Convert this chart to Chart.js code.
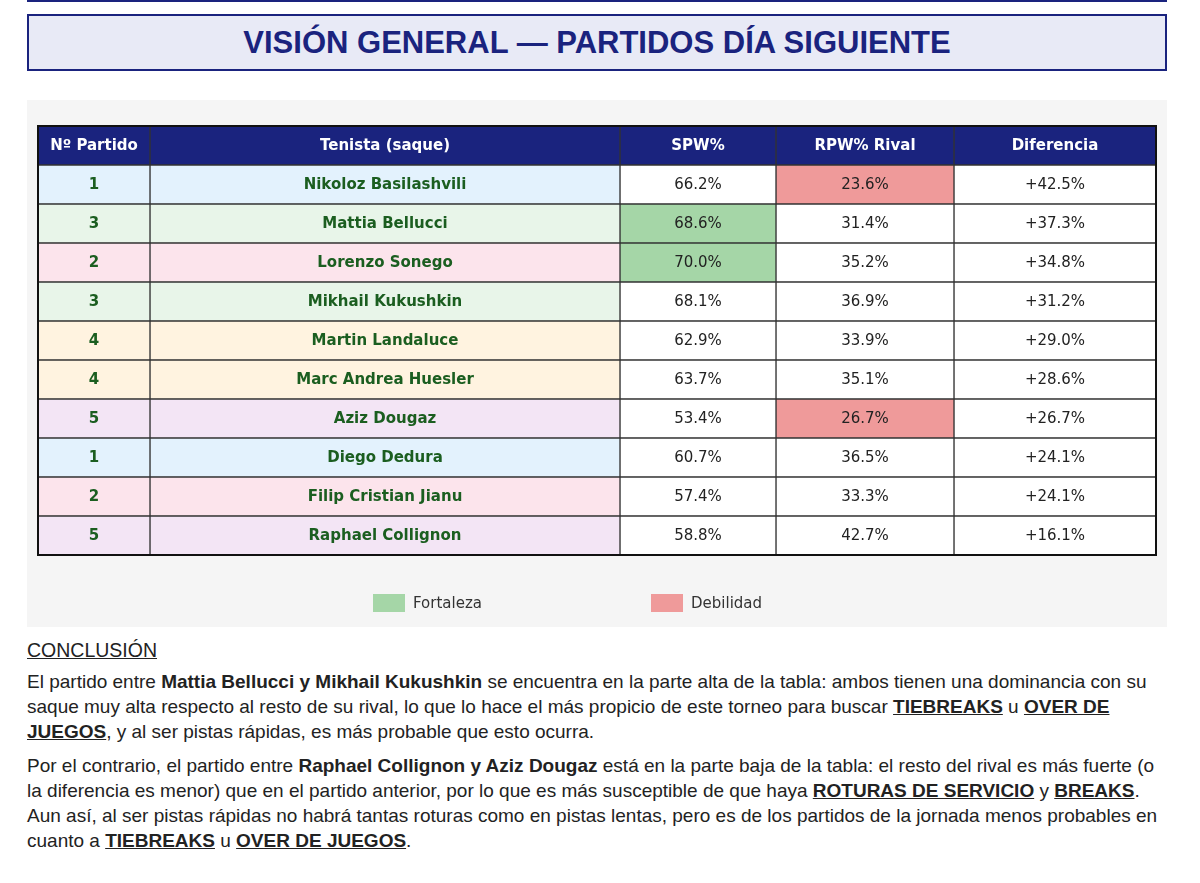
<!DOCTYPE html>
<html><head><meta charset="utf-8">
<script src="https://cdn.jsdelivr.net/npm/chart.js@4"></script>
<style>
body{margin:0;width:1200px;height:883px;background:#fff;font-family:"Liberation Sans",Arial,sans-serif;position:relative;overflow:hidden}
#topline{position:absolute;left:27px;top:0;width:1140px;height:2px;background:#1a237e}
#title{position:absolute;left:27px;top:14px;width:1136px;height:53px;border:2px solid #1a237e;background:#e8eaf6;color:#1a237e;font:bold 31px "Liberation Sans",Arial,sans-serif;display:flex;align-items:center;justify-content:center}
#panel{position:absolute;left:27px;top:100px;width:1140px;height:527px;background:#f5f5f5}
#legend{position:absolute;left:0;top:494px;width:1140px;font:15px "DejaVu Sans",sans-serif;color:#333}
.lg{position:absolute;display:flex;align-items:center}
.sw{width:32px;height:18px;margin-right:8px}
#concl{position:absolute;left:27px;top:638px;width:1145px;font-size:19px;line-height:25px;color:#222}
#concl p{margin:0 0 9px 0}
#concl h4{margin:0 0 6px 0;font-weight:normal;font-size:19.5px;text-decoration:underline}
u b,b u{font-weight:bold}
</style></head><body>
<div id="topline"></div>
<div id="title">VISIÓN GENERAL — PARTIDOS DÍA SIGUIENTE</div>
<div id="panel"><canvas id="c" width="1140" height="527"></canvas>
<div id="legend"><div class="lg" style="left:346px"><div class="sw" style="background:#a5d6a7"></div>Fortaleza</div>
<div class="lg" style="left:624px"><div class="sw" style="background:#ef9a9a"></div>Debilidad</div></div></div>
<div id="concl">
<h4>CONCLUSIÓN</h4>
<p>El partido entre <b>Mattia Bellucci y Mikhail Kukushkin</b> se encuentra en la parte alta de la tabla: ambos tienen una dominancia con su saque muy alta respecto al resto de su rival, lo que lo hace el más propicio de este torneo para buscar <b><u>TIEBREAKS</u></b> u <b><u>OVER DE JUEGOS</u></b>, y al ser pistas rápidas, es más probable que esto ocurra.</p>
<p>Por el contrario, el partido entre <b>Raphael Collignon y Aziz Dougaz</b> está en la parte baja de la tabla: el resto del rival es más fuerte (o la diferencia es menor) que en el partido anterior, por lo que es más susceptible de que haya <b><u>ROTURAS DE SERVICIO</u></b> y <b><u>BREAKS</u></b>. Aun así, al ser pistas rápidas no habrá tantas roturas como en pistas lentas, pero es de los partidos de la jornada menos probables en cuanto a <b><u>TIEBREAKS</u></b> u <b><u>OVER DE JUEGOS</u></b>.</p>
</div>
<script>
const headers=["Nº Partido","Tenista (saque)","SPW%","RPW% Rival","Diferencia"];
const partido=[1,3,2,3,4,4,5,1,2,5];
const tenista=["Nikoloz Basilashvili","Mattia Bellucci","Lorenzo Sonego","Mikhail Kukushkin","Martin Landaluce","Marc Andrea Huesler","Aziz Dougaz","Diego Dedura","Filip Cristian Jianu","Raphael Collignon"];
const spw=[66.2,68.6,70.0,68.1,62.9,63.7,53.4,60.7,57.4,58.8];
const rpw=[23.6,31.4,35.2,36.9,33.9,35.1,26.7,36.5,33.3,42.7];
const dif=[42.5,37.3,34.8,31.2,29.0,28.6,26.7,24.1,24.1,16.1];
const spwHi=[false,true,true,false,false,false,false,false,false,false];
const rpwLo=[true,false,false,false,false,false,true,false,false,false];
const colW=[112,470,156,178,202];
const matchColor={1:"#e3f2fd",2:"#fce4ec",3:"#e8f5e9",4:"#fff3e0",5:"#f3e5f5"};
const rows=["h"].concat(tenista);
function cellText(c,r){
 if(r===0) return headers[c];
 const i=r-1;
 return [String(partido[i]),tenista[i],spw[i].toFixed(1)+"%",rpw[i].toFixed(1)+"%","+"+dif[i].toFixed(1)+"%"][c];
}
function cellBg(c,r){
 if(r===0) return "#1a237e";
 const i=r-1;
 if(c<2) return matchColor[partido[i]];
 if(c===2&&spwHi[i]) return "#a5d6a7";
 if(c===3&&rpwLo[i]) return "#ef9a9a";
 return "#ffffff";
}
const datasets=colW.map((w,c)=>({data:rows.map(()=>w),backgroundColor:rows.map((_,r)=>cellBg(c,r)),borderColor:"#333",borderWidth:1,borderSkipped:false,barPercentage:1,categoryPercentage:1}));
const textPlugin={id:"t",afterDatasetsDraw(ch){
 const ctx=ch.ctx;ctx.save();ctx.textAlign="center";ctx.textBaseline="middle";
 ch.data.datasets.forEach((d,c)=>{ch.getDatasetMeta(c).data.forEach((el,r)=>{
  const x=(el.x+el.base)/2;
  if(r===0){ctx.fillStyle="#fff";ctx.font="bold 15px 'DejaVu Sans'";}
  else if(c<2){ctx.fillStyle="#1b5e20";ctx.font="bold 15px 'DejaVu Sans'";}
  else {ctx.fillStyle="#222";ctx.font="15px 'DejaVu Sans'";}
  ctx.fillText(cellText(c,r),x,el.y+1);
 });});
 const a=ch.chartArea;ctx.strokeStyle="#111";ctx.lineWidth=2;ctx.strokeRect(a.left,a.top,a.right-a.left,a.bottom-a.top);
 ctx.restore();}};
new Chart(document.getElementById("c"),{type:"bar",data:{labels:rows,datasets},
 options:{indexAxis:"y",responsive:false,animation:false,events:[],
  layout:{padding:{left:11,right:11,top:26,bottom:72}},
  scales:{x:{stacked:true,display:false,min:0,max:colW.reduce((a,b)=>a+b,0)},y:{stacked:true,display:false}},
  plugins:{legend:{display:false},tooltip:{enabled:false}}},plugins:[textPlugin]});
</script>
</body></html>
